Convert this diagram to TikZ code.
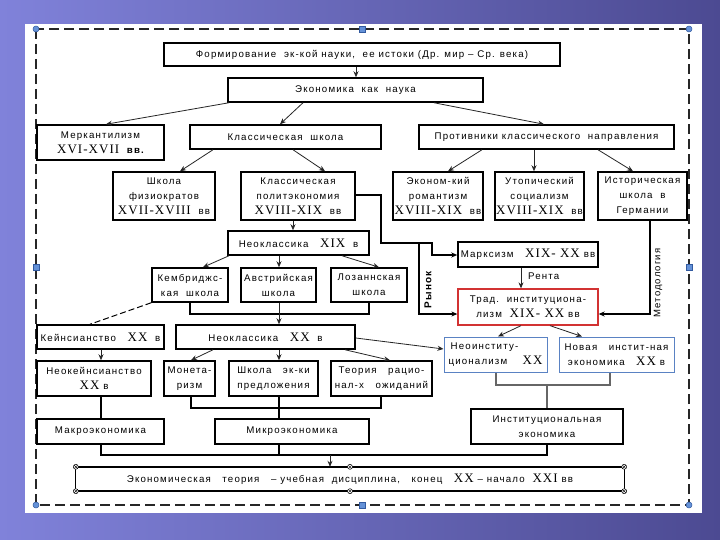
\documentclass[tikz,border=0pt]{standalone}
\usepackage{fontspec}
\setmainfont{Liberation Sans}
\newfontfamily\txf[LetterSpace=12]{Liberation Sans}
\newfontfamily\rmf[LetterSpace=8]{Liberation Serif}
\usetikzlibrary{arrows.meta,calc}
\newcommand\R[1]{{\rmf\fontsize{13}{13}\selectfont #1}}
\newcommand\bx[7]{%
 \pgfmathsetmacro\cx{(#3+#5)/2}%
 \pgfmathsetmacro\cy{(#4+#6)/2}%
 \pgfmathsetmacro\ww{#5-#3}%
 \pgfmathsetmacro\hh{#6-#4}%
 \node[#1, minimum width=\ww pt, minimum height=\hh pt] (#2) at (\cx,\cy) {};%
 \node[txt] (#2-t) at (#2.center) {#7};}
\definecolor{bgl}{RGB}{128,130,218}
\definecolor{bgr}{RGB}{76,74,146}
\definecolor{hdl}{RGB}{100,145,215}
\definecolor{hdd}{RGB}{50,90,160}
\definecolor{redb}{RGB}{210,50,50}
\definecolor{blb}{RGB}{90,130,195}
\tikzset{
 box/.style={draw=black, line width=1.5pt, rectangle, inner sep=0pt, fill=white},
 boxb/.style={box, line width=2pt},
 boxr/.style={box, draw=redb, line width=1.3pt},
 boxl/.style={box, draw=blb, line width=1pt},
 boxn/.style={rectangle, inner sep=0pt},
 txt/.style={font=\txf\fontsize{9.7}{15}\selectfont, align=center, inner sep=0pt},
 arr/.style={draw=black!85, line width=0.8pt, -{Stealth[length=6pt,width=5pt]}},
 ln/.style={draw=black, line width=1.2pt},
 lnk/.style={draw=black, line width=1.6pt},
 gl/.style={draw=black!60, line width=1.2pt},
 rot/.style={rotate=90, inner sep=0pt, font=\txf\fontsize{9.5}{10}\selectfont},
 hc/.style={circle, fill=hdl, draw=hdd, line width=0.5pt, minimum size=6pt, inner sep=0pt},
 hs/.style={rectangle, fill=hdl, draw=hdd, line width=0.5pt, minimum size=6pt, inner sep=0pt},
 hx/.style={circle, fill=white, draw=black, line width=0.5pt, minimum size=5pt, inner sep=0pt},
}
\begin{document}
\begin{tikzpicture}[x=1pt,y=-1pt]
\useasboundingbox (0,0) rectangle (720,540);
\shade[left color=bgl, right color=bgr] (0,0) rectangle (720,540);
\fill[white] (25,24) rectangle (702,513);
\draw[black!85, line width=1.4pt, dash pattern=on 10pt off 5pt] (36,29) rectangle (689,505);

\bx{boxb}{b1}{164}{43}{560}{66}{Формирование\ \ эк-кой науки,\ \ ее истоки (Др. мир – Ср. века)}
\bx{box}{b2}{228}{78}{483}{102}{Экономика\ \ как\ \ наука}
\bx{box}{b3}{37}{125}{164}{160}{Меркантилизм\\\R{XVI-XVII}\ \ {\bfseries вв.}}
\bx{box}{b4}{190}{125}{381}{149}{Классическая\ \ школа}
\bx{box}{b5}{419}{125}{674}{149}{Противники классического\ \ направления}
\bx{box}{b6}{113}{172}{215}{220}{Школа\\физиократов\\\R{XVII-XVIII}\ \ вв}
\bx{box}{b7}{241}{172}{355}{220}{Классическая\\политэкономия\\\R{XVIII-XIX}\ \ вв}
\bx{box}{b8}{393}{172}{483}{220}{Эконом-кий\\романтизм\\\R{XVIII-XIX}\ \ вв}
\bx{box}{b9}{495}{172}{584}{220}{Утопический\\социализм\\\R{XVIII-XIX}\ \ вв}
\bx{box}{b10}{598}{172}{687}{220}{Историческая\\школа\ \ в\\Германии}
\bx{box}{b11}{228}{231}{369}{255}{Неоклассика\ \ \ \R{XIX}\ \ в}
\bx{box}{b12}{458}{242}{598}{267}{Марксизм\ \ \ \R{XIX- XX} вв}
\bx{box}{b13}{152}{268}{228}{302}{Кембриджс-\\кая\ \ школа}
\bx{box}{b14}{241}{268}{316}{302}{Австрийская\\школа}
\bx{box}{b15}{331}{268}{407}{302}{Лозаннская\\школа}
\bx{boxr}{b16}{458}{289}{598}{325}{Трад.\ \ институциона-\\лизм\ \ \R{XIX- XX} вв}
\bx{box}{b17}{37}{325}{164}{349}{Кейнсианство\ \ \ \R{XX}\ \ в}
\bx{box}{b18}{176}{325}{355}{349}{Неоклассика\ \ \ \R{XX}\ \ в}
\bx{boxl}{b19}{444}{337}{547}{372}{Неоинститу-\hspace*{22pt}\\ционализм\ \ \ \ \R{XX}}
\bx{boxl}{b20}{559}{337}{674}{372}{Новая\ \ \ инстит-ная\\экономика\ \ \ \R{XX} в}
\bx{box}{b21}{37}{361}{151}{396}{Неокейнсианство\\\R{XX} в}
\bx{box}{b22}{164}{361}{215}{396}{Монета-\\ризм}
\bx{box}{b23}{229}{361}{318}{396}{Школа\ \ \ эк-ки\\предложения}
\bx{box}{b24}{331}{361}{432}{396}{Теория\ \ \ рацио-\\нал-х\ \ \ ожиданий}
\bx{box}{b25}{37}{419}{164}{444}{Макроэкономика}
\bx{box}{b26}{215}{419}{369}{444}{Микроэкономика}
\bx{box}{b27}{471}{409}{623}{444}{Институциональная\\экономика}
\bx{boxn}{b28}{76}{467}{624}{491}{Экономическая\ \ \ теория\ \ \ – учебная\ \ дисциплина,\ \ \ конец\ \ \ \R{XX} – начало\ \ \R{XXI} вв}
\draw[line width=2pt] (b28.north west) -- (b28.north east);
\draw[line width=2pt] (b28.south west) -- (b28.south east);
\draw[line width=1pt] (b28.north west) -- (b28.south west);
\draw[line width=1pt] (b28.north east) -- (b28.south east);

% connectors
\draw[arr] (b1.south -| 356,0) -- (b2.north -| 356,0);
\draw[arr] (b2.south -| 229,0) -- (b3.north -| 106,0);
\draw[arr] (b2.south -| 303,0) -- (b4.north -| 280,0);
\draw[arr] (b2.south -| 434,0) -- (b5.north -| 544,0);
\draw[arr] (b4.south -| 213,0) -- (b6.north -| 180,0);
\draw[arr] (b4.south -| 293,0) -- (b7.north -| 325,0);
\draw[arr] (b5.south -| 482,0) -- (b8.north -| 448,0);
\draw[arr] (b5.south -| 534,0) -- (b9.north -| 534,0);
\draw[arr] (b5.south -| 598,0) -- (b10.north -| 633,0);
\draw[arr] (b7.south -| 293,0) -- (b11.north -| 293,0);
\draw[lnk, -{Stealth[length=6pt,width=5pt]}] (b7.east |- 0,195) -| (381,243) -- (432,243) -- (432,255) -- (b12.west |- 0,255);
\draw[lnk, -{Stealth[length=6pt,width=5pt]}] (419,243) -- (419,314) -- (b16.west |- 0,314);
\node[rot, font=\txf\bfseries\fontsize{10}{10}\selectfont] (rynok) at (428,290) {Рынок};
\draw[arr] (b12.south -| 521,0) -- (b16.north -| 521,0);
\node[txt, anchor=west] (renta) at (528,276) {Рента};
\draw[lnk, -{Stealth[length=6pt,width=5pt]}] (b10.south -| 650,0) -- (650,314) -- (b16.east |- 0,314);
\node[rot] (metod) at (658,283) {Методология};

\draw[arr] (b11.south -| 229,0) -- (b13.north -| 203,0);
\draw[arr] (b11.south -| 279,0) -- (b14.north -| 279,0);
\draw[arr] (b11.south -| 342,0) -- (b15.north -| 379,0);
\draw[ln] (b13.south -| 190,0) -- (190,314) -- (369,314) -- (b15.south -| 369,0);
\draw[arr] (b14.south -| 279,0) -- (b18.north -| 279,0);
\draw[draw=black, line width=1pt, dash pattern=on 6pt off 3pt] (b13.south west) -- (b17.north -| 90,0);
\draw[arr] (b17.south -| 101,0) -- (b21.north -| 101,0);
\draw[arr] (b18.south -| 213,0) -- (b22.north -| 191,0);
\draw[arr] (b18.south -| 279,0) -- (b23.north -| 279,0);
\draw[arr] (b18.south -| 345,0) -- (b24.north -| 390,0);
\draw[arr] (b18.east |- 0,338) -- (b19.west |- 0,349);
\draw[arr] (b16.south -| 521,0) -- (b19.north -| 498,0);
\draw[arr] (b16.south -| 550,0) -- (b20.north -| 582,0);
\draw[gl] (b19.south -| 496,0) -- (496,385) -- (610,385) -- (b20.south -| 610,0);
\draw[gl] (547,385) -- (b27.north -| 547,0);
\draw[ln] (b21.south -| 101,0) -- (b25.north -| 101,0);
\draw[ln] (b22.south -| 191,0) -- (191,408) -- (381,408) -- (b24.south -| 381,0);
\draw[ln] (b23.south -| 279,0) -- (b26.north -| 279,0);
\draw[ln] (b25.south -| 101,0) -- (101,455) -- (547,455) -- (b27.south -| 547,0);
\draw[ln] (b26.south -| 279,0) -- (279,455);
\coordinate (m1) at (330,455);
\draw[arr] (m1) -- (b28.north -| 330,0);

% handles of b28
\foreach \p [count=\i] in {b28.north west, b28.north, b28.north east, b28.south west, b28.south, b28.south east} {
  \node[hx] (hx\i) at (\p) {};
  \draw[line width=0.4pt] ($(hx\i.center)+(-1.6,-1.6)$) -- ($(hx\i.center)+(1.6,1.6)$);
  \draw[line width=0.4pt] ($(hx\i.center)+(-1.6,1.6)$) -- ($(hx\i.center)+(1.6,-1.6)$);
}
% frame handles
\node[hc] (h1) at (36,29) {};
\node[hc] (h2) at (689,29) {};
\node[hc] (h3) at (36,505) {};
\node[hc] (h4) at (689,505) {};
\node[hs] (h5) at (362,29) {};
\node[hs] (h6) at (36,267) {};
\node[hs] (h7) at (689,267) {};
\node[hs] (h8) at (362,505) {};
\end{tikzpicture}
\end{document}
